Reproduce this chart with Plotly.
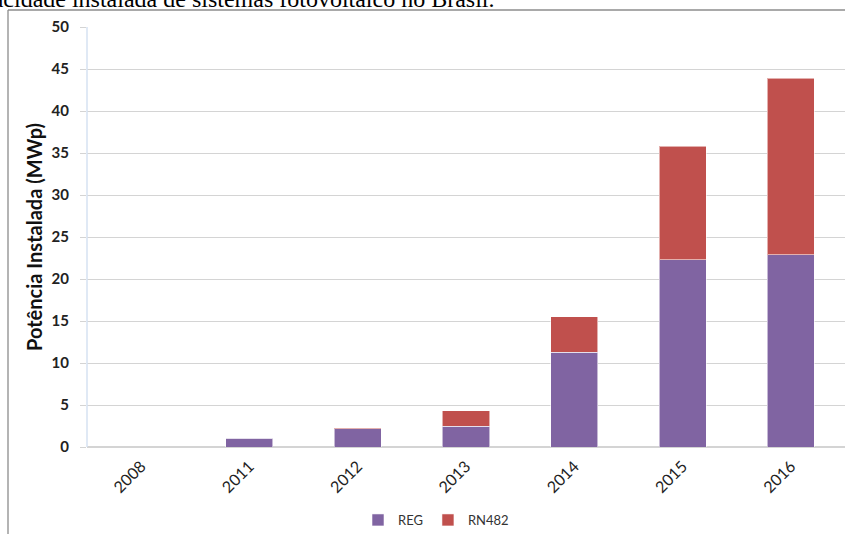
import plotly.graph_objects as go

# Installed photovoltaic capacity in Brazil (MWp)
years = ["2008", "2011", "2012", "2013", "2014", "2015", "2016"]
reg = [0.0, 1.07, 2.2, 2.5, 11.3, 22.3, 22.9]
rn482 = [0.0, 0.0, 0.1, 1.8, 4.2, 13.5, 21.0]

purple = "#8064A2"
red = "#C0504D"
font_main = "Lato, 'Open Sans', sans-serif"

W, H = 845, 534
L, R, T, B = 87, 0, 27, 87
pw, ph = W - L - R, H - T - B


def px_x(px):
    return (px - L) / pw


def px_y(py):
    return (H - B - py) / ph


fig = go.Figure()
fig.add_trace(go.Bar(
    x=years, y=reg, name="REG",
    marker=dict(color=purple, line=dict(color="rgba(255,255,255,0.55)", width=1)),
))
fig.add_trace(go.Bar(
    x=years, y=rn482, name="RN482",
    marker=dict(color=red, line=dict(color="rgba(255,255,255,0.55)", width=1)),
))

fig.update_layout(
    width=W, height=H,
    margin=dict(l=L, r=R, t=T, b=B, autoexpand=False),
    paper_bgcolor="white", plot_bgcolor="white",
    barmode="stack", bargap=0.565,
    font=dict(family=font_main, color="#222222"),
    showlegend=True,
    legend=dict(
        orientation="h", traceorder="normal",
        x=px_x(436), xanchor="center",
        y=px_y(520), yanchor="middle",
        font=dict(size=13, color="#333333"),
        itemwidth=30, tracegroupgap=0,
    ),
    xaxis=dict(
        tickangle=-45, tickfont=dict(size=16, color="#222222"),
        showgrid=False, showline=False, ticks="",
        ticklabelstandoff=6,
    ),
    yaxis=dict(
        range=[0, 50], dtick=5, tick0=0,
        showgrid=True, gridcolor="#D4D4D4", gridwidth=1.3,
        zeroline=True, zerolinecolor="#D4D4D4", zerolinewidth=1.5,
        showline=False,
        ticks="outside", ticklen=6, tickcolor="#D4D4D4",
        ticklabelstandoff=8,
        tickfont=dict(size=15, color="#222222", family=font_main, weight="bold"),
        title=dict(
            text="Potência Instalada (MWp)",
            font=dict(size=20, color="#111111", family=font_main, weight="bold"),
            standoff=3,
        ),
    ),
)

# light vertical value-axis line
fig.add_shape(type="line", xref="paper", yref="paper",
              x0=0, x1=0, y0=0, y1=1,
              line=dict(color="#D6E2F2", width=1.5))

# chart frame: top and left border
fig.add_shape(type="line", xref="paper", yref="paper",
              x0=px_x(8), x1=px_x(846), y0=px_y(10), y1=px_y(10),
              line=dict(color="#8C8C8C", width=1.3))
fig.add_shape(type="line", xref="paper", yref="paper",
              x0=px_x(8), x1=px_x(8), y0=px_y(10), y1=px_y(535),
              line=dict(color="#8C8C8C", width=1.3))

# caption above the chart
fig.add_annotation(
    text="Capacidade instalada de sistemas fotovoltaico no Brasil.",
    xref="paper", yref="paper", x=px_x(497), y=px_y(14),
    xanchor="right", yanchor="bottom", showarrow=False,
    font=dict(family="'Liberation Serif', 'Times New Roman', serif", size=24, color="#000000"),
)

fig.write_html("out.html")
